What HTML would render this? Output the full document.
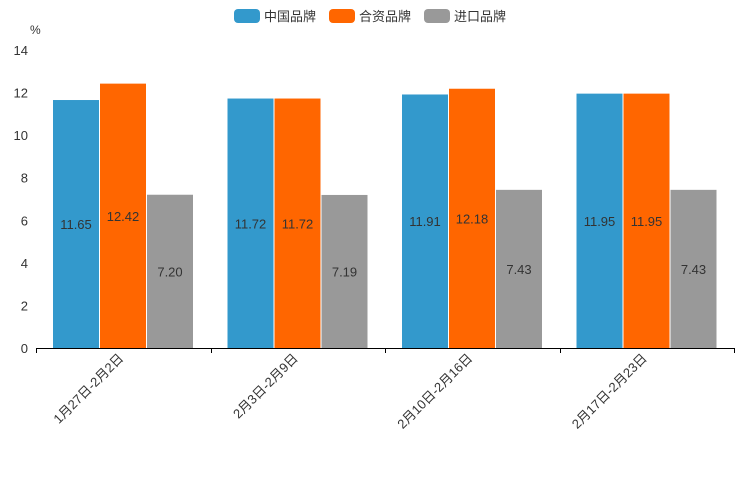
<!DOCTYPE html>
<html><head><meta charset="utf-8">
<style>
body{margin:0;background:#fff;}
svg{display:block;font-family:"Liberation Sans","Noto Sans CJK SC",sans-serif;}
</style></head>
<body>
<svg id="chart" width="744" height="496" xmlns="http://www.w3.org/2000/svg"></svg>
<script>
const categories=["1月27日-2月2日","2月3日-2月9日","2月10日-2月16日","2月17日-2月23日"];
const seriesNames=["中国品牌","合资品牌","进口品牌"];
const chinaValues=[11.65,11.72,11.91,11.95];
const jvValues=[12.42,11.72,12.18,11.95];
const importValues=[7.20,7.19,7.43,7.43];
const yTicks=[0,2,4,6,8,10,12,14];
const colors=["#3399cc","#ff6600","#999999"];
const allSeries=[chinaValues,jvValues,importValues];

const svg=document.getElementById('chart');
const NS="http://www.w3.org/2000/svg";
const x0=36,x1=734,y0=348,yTop=50,yMax=14;
const yScale=v=>y0-(v/yMax)*(y0-yTop);
const gw=(x1-x0)/categories.length;
const barW=46,pad=17;
const xBar=(g,s)=>x0+g*gw+pad+s*(barW+1);
function mk(tag,attrs,parent){const e=document.createElementNS(NS,tag);for(const k in attrs)e.setAttribute(k,attrs[k]);(parent||svg).appendChild(e);return e;}

// legend
let lx=234;
seriesNames.forEach((n,i)=>{
  const g=mk('g',{});
  
  
  mk('rect',{x:lx,y:9,width:26,height:14,rx:4,fill:colors[i]},g);
  const t=mk('text',{x:lx+30,y:21,'font-size':13,fill:'#333'},g);t.textContent=n;
  lx+=30+n.length*13+13;
});
// unit
const u=mk('text',{x:30,y:34,'font-size':12,fill:'#333'});u.textContent='%';


// y ticks
yTicks.forEach(v=>{
  const t=mk('text',{x:28,y:yScale(v)+5,'font-size':13,fill:'#333','text-anchor':'end'});
  t.textContent=v;
  
  
});
// bars
allSeries.forEach((vals,s)=>{
  vals.forEach((v,g)=>{
    const x=xBar(g,s),y=yScale(v);
    const r=mk('rect',{x:x,y:y,width:barW,height:y0-y,fill:colors[s]});
    
    
    const t=mk('text',{x:x+barW/2,y:(y+y0)/2+5,'font-size':13,fill:'#333','text-anchor':'middle'});
    t.textContent=v.toFixed(2);
    
    
  });
});
// axis
const ax=mk('line',{x1:x0,y1:y0+0.5,x2:x1,y2:y0+0.5,stroke:'#000','stroke-width':1});


for(let i=0;i<=categories.length;i++){
  const xx=Math.round(x0+i*gw)+0.5;
  mk('line',{x1:xx,y1:y0,x2:xx,y2:y0+5,stroke:'#000'});
}
categories.forEach((c,g)=>{
  const cx=x0+g*gw+gw/2+1,cy=y0+11;
  const t=mk('text',{x:cx,y:cy,'font-size':13,fill:'#333','text-anchor':'end',transform:`rotate(-45 ${cx} ${cy})`});
  t.textContent=c;
  
  
});
</script>
</body></html>
